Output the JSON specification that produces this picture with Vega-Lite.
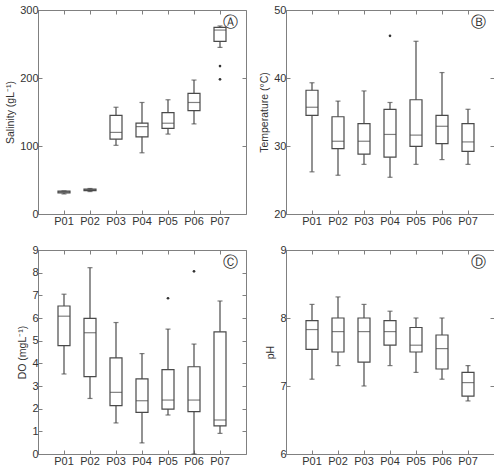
{
  "$schema": "https://vega.github.io/schema/vega-lite/v6.json",
  "padding": {"left": 5, "top": 3, "right": 2, "bottom": 2},
  "background": "white",
  "datasets": {
    "boxes": [
      {"panel": "A", "site": "P01", "min": 29.5, "q1": 31, "med": 32.5, "q3": 33.5, "max": 34},
      {"panel": "A", "site": "P02", "min": 33, "q1": 34.5, "med": 35.5, "q3": 36.5, "max": 37.5},
      {"panel": "A", "site": "P03", "min": 101, "q1": 110, "med": 120, "q3": 145, "max": 157},
      {"panel": "A", "site": "P04", "min": 90, "q1": 113.5, "med": 128.5, "q3": 133.5, "max": 164},
      {"panel": "A", "site": "P05", "min": 117.5, "q1": 126, "med": 133.5, "q3": 149, "max": 168},
      {"panel": "A", "site": "P06", "min": 132.5, "q1": 152, "med": 164, "q3": 177.5, "max": 197},
      {"panel": "A", "site": "P07", "min": 245, "q1": 254, "med": 270.5, "q3": 274.5, "max": 276.5},
      {"panel": "B", "site": "P01", "min": 26.2, "q1": 34.5, "med": 35.7, "q3": 38.2, "max": 39.3},
      {"panel": "B", "site": "P02", "min": 25.7, "q1": 29.6, "med": 30.7, "q3": 34.3, "max": 36.6},
      {"panel": "B", "site": "P03", "min": 27.3, "q1": 28.8, "med": 30.7, "q3": 33.3, "max": 38.1},
      {"panel": "B", "site": "P04", "min": 25.4, "q1": 28.35, "med": 31.7, "q3": 35.4, "max": 36.4},
      {"panel": "B", "site": "P05", "min": 27.3, "q1": 29.95, "med": 31.6, "q3": 36.8, "max": 45.4},
      {"panel": "B", "site": "P06", "min": 28.0, "q1": 30.35, "med": 32.9, "q3": 34.5, "max": 40.8},
      {"panel": "B", "site": "P07", "min": 27.3, "q1": 29.2, "med": 30.6, "q3": 33.3, "max": 35.4},
      {"panel": "C", "site": "P01", "min": 3.53, "q1": 4.78, "med": 6.08, "q3": 6.53, "max": 7.05},
      {"panel": "C", "site": "P02", "min": 2.45, "q1": 3.41, "med": 5.35, "q3": 5.98, "max": 8.22},
      {"panel": "C", "site": "P03", "min": 1.37, "q1": 2.13, "med": 2.72, "q3": 4.24, "max": 5.8},
      {"panel": "C", "site": "P04", "min": 0.49, "q1": 1.84, "med": 2.35, "q3": 3.31, "max": 4.43},
      {"panel": "C", "site": "P05", "min": 1.72, "q1": 1.98, "med": 2.38, "q3": 3.72, "max": 5.51},
      {"panel": "C", "site": "P06", "min": 0, "q1": 1.87, "med": 2.38, "q3": 3.85, "max": 4.85},
      {"panel": "C", "site": "P07", "min": 0.91, "q1": 1.24, "med": 1.5, "q3": 5.39, "max": 6.75},
      {"panel": "D", "site": "P01", "min": 7.1, "q1": 7.54, "med": 7.83, "q3": 7.96, "max": 8.2},
      {"panel": "D", "site": "P02", "min": 7.3, "q1": 7.5, "med": 7.8, "q3": 8.0, "max": 8.31},
      {"panel": "D", "site": "P03", "min": 7.0, "q1": 7.35, "med": 7.8, "q3": 8.0, "max": 8.2},
      {"panel": "D", "site": "P04", "min": 7.3, "q1": 7.6, "med": 7.8, "q3": 7.96, "max": 8.1},
      {"panel": "D", "site": "P05", "min": 7.2, "q1": 7.5, "med": 7.6, "q3": 7.86, "max": 8.0},
      {"panel": "D", "site": "P06", "min": 7.1, "q1": 7.25, "med": 7.55, "q3": 7.75, "max": 8.0},
      {"panel": "D", "site": "P07", "min": 6.78, "q1": 6.85, "med": 7.05, "q3": 7.2, "max": 7.3}
    ],
    "outliers": [
      {"panel": "A", "site": "P07", "value": 217.5},
      {"panel": "A", "site": "P07", "value": 198},
      {"panel": "B", "site": "P04", "value": 46.2},
      {"panel": "C", "site": "P05", "value": 6.87},
      {"panel": "C", "site": "P06", "value": 8.06}
    ]
  },
  "concat": [
    {
      "width": 208, "height": 204,
      "title": {"text": "Ⓐ"},
      "data": {"name": "boxes"}, "transform": [{"filter": "datum.panel === 'A'"}],
      "layer": [
        {"mark": {"type": "rule", "color": "#4a4a4a", "strokeWidth": 1.2},
         "encoding": {"x": {"field": "site", "type": "nominal", "scale": {"domain": ["P01","P02","P03","P04","P05","P06","P07"], "paddingInner": 0, "paddingOuter": 0.5}, "axis": {"orient": "bottom"}},
                      "y": {"field": "min", "type": "quantitative", "scale": {"domain": [0, 300]}, "axis": {"orient": "left", "values": [0, 100, 200, 300], "title": "Salinity (gL⁻¹)"}},
                      "y2": {"field": "max"}}},
        {"mark": {"type": "bar", "fill": "white", "stroke": "#4a4a4a", "strokeWidth": 1.2, "width": 12},
         "encoding": {"x": {"field": "site", "type": "nominal", "axis": null}, "y": {"field": "q1", "type": "quantitative", "axis": null}, "y2": {"field": "q3"}}},
        {"mark": {"type": "tick", "color": "#4a4a4a", "size": 12, "thickness": 1.2},
         "encoding": {"x": {"field": "site", "type": "nominal", "axis": null}, "y": {"field": "med", "type": "quantitative", "axis": null}}},
        {"mark": {"type": "tick", "color": "#4a4a4a", "size": 5, "thickness": 1.2},
         "encoding": {"x": {"field": "site", "type": "nominal", "axis": null}, "y": {"field": "min", "type": "quantitative", "axis": null}}},
        {"mark": {"type": "tick", "color": "#4a4a4a", "size": 5, "thickness": 1.2},
         "encoding": {"x": {"field": "site", "type": "nominal", "axis": {"orient": "top", "labels": false}}, "y": {"field": "max", "type": "quantitative", "axis": {"orient": "right", "labels": false, "title": null, "values": [0, 100, 200, 300]}}}},
        {"data": {"name": "outliers"}, "transform": [{"filter": "datum.panel === 'A'"}],
         "mark": {"type": "circle", "color": "#333", "size": 7, "opacity": 1},
         "encoding": {"x": {"field": "site", "type": "nominal", "axis": null}, "y": {"field": "value", "type": "quantitative", "axis": null}}}
      ],
      "resolve": {"axis": {"x": "independent", "y": "independent"}}
    },
    {
      "width": 208, "height": 204,
      "title": {"text": "Ⓑ"},
      "data": {"name": "boxes"}, "transform": [{"filter": "datum.panel === 'B'"}],
      "layer": [
        {"mark": {"type": "rule", "color": "#4a4a4a", "strokeWidth": 1.2},
         "encoding": {"x": {"field": "site", "type": "nominal", "scale": {"domain": ["P01","P02","P03","P04","P05","P06","P07"], "paddingInner": 0, "paddingOuter": 0.5}, "axis": {"orient": "bottom"}},
                      "y": {"field": "min", "type": "quantitative", "scale": {"domain": [20, 50]}, "axis": {"orient": "left", "values": [20, 30, 40, 50], "title": "Temperature (°C)"}},
                      "y2": {"field": "max"}}},
        {"mark": {"type": "bar", "fill": "white", "stroke": "#4a4a4a", "strokeWidth": 1.2, "width": 12},
         "encoding": {"x": {"field": "site", "type": "nominal", "axis": null}, "y": {"field": "q1", "type": "quantitative", "axis": null}, "y2": {"field": "q3"}}},
        {"mark": {"type": "tick", "color": "#4a4a4a", "size": 12, "thickness": 1.2},
         "encoding": {"x": {"field": "site", "type": "nominal", "axis": null}, "y": {"field": "med", "type": "quantitative", "axis": null}}},
        {"mark": {"type": "tick", "color": "#4a4a4a", "size": 5, "thickness": 1.2},
         "encoding": {"x": {"field": "site", "type": "nominal", "axis": null}, "y": {"field": "min", "type": "quantitative", "axis": null}}},
        {"mark": {"type": "tick", "color": "#4a4a4a", "size": 5, "thickness": 1.2},
         "encoding": {"x": {"field": "site", "type": "nominal", "axis": {"orient": "top", "labels": false}}, "y": {"field": "max", "type": "quantitative", "axis": {"orient": "right", "labels": false, "title": null, "values": [20, 30, 40, 50]}}}},
        {"data": {"name": "outliers"}, "transform": [{"filter": "datum.panel === 'B'"}],
         "mark": {"type": "circle", "color": "#333", "size": 7, "opacity": 1},
         "encoding": {"x": {"field": "site", "type": "nominal", "axis": null}, "y": {"field": "value", "type": "quantitative", "axis": null}}}
      ],
      "resolve": {"axis": {"x": "independent", "y": "independent"}}
    },
    {
      "width": 208, "height": 204,
      "title": {"text": "Ⓒ"},
      "data": {"name": "boxes"}, "transform": [{"filter": "datum.panel === 'C'"}],
      "layer": [
        {"mark": {"type": "rule", "color": "#4a4a4a", "strokeWidth": 1.2},
         "encoding": {"x": {"field": "site", "type": "nominal", "scale": {"domain": ["P01","P02","P03","P04","P05","P06","P07"], "paddingInner": 0, "paddingOuter": 0.5}, "axis": {"orient": "bottom"}},
                      "y": {"field": "min", "type": "quantitative", "scale": {"domain": [0, 9]}, "axis": {"orient": "left", "values": [0,1,2,3,4,5,6,7,8,9], "title": "DO (mgL⁻¹)"}},
                      "y2": {"field": "max"}}},
        {"mark": {"type": "bar", "fill": "white", "stroke": "#4a4a4a", "strokeWidth": 1.2, "width": 12},
         "encoding": {"x": {"field": "site", "type": "nominal", "axis": null}, "y": {"field": "q1", "type": "quantitative", "axis": null}, "y2": {"field": "q3"}}},
        {"mark": {"type": "tick", "color": "#4a4a4a", "size": 12, "thickness": 1.2},
         "encoding": {"x": {"field": "site", "type": "nominal", "axis": null}, "y": {"field": "med", "type": "quantitative", "axis": null}}},
        {"mark": {"type": "tick", "color": "#4a4a4a", "size": 5, "thickness": 1.2},
         "encoding": {"x": {"field": "site", "type": "nominal", "axis": null}, "y": {"field": "min", "type": "quantitative", "axis": null}}},
        {"mark": {"type": "tick", "color": "#4a4a4a", "size": 5, "thickness": 1.2},
         "encoding": {"x": {"field": "site", "type": "nominal", "axis": {"orient": "top", "labels": false}}, "y": {"field": "max", "type": "quantitative", "axis": {"orient": "right", "labels": false, "title": null, "values": [0,1,2,3,4,5,6,7,8,9]}}}},
        {"data": {"name": "outliers"}, "transform": [{"filter": "datum.panel === 'C'"}],
         "mark": {"type": "circle", "color": "#333", "size": 7, "opacity": 1},
         "encoding": {"x": {"field": "site", "type": "nominal", "axis": null}, "y": {"field": "value", "type": "quantitative", "axis": null}}}
      ],
      "resolve": {"axis": {"x": "independent", "y": "independent"}}
    },
    {
      "width": 208, "height": 204,
      "title": {"text": "Ⓓ"},
      "data": {"name": "boxes"}, "transform": [{"filter": "datum.panel === 'D'"}],
      "layer": [
        {"mark": {"type": "rule", "color": "#4a4a4a", "strokeWidth": 1.2},
         "encoding": {"x": {"field": "site", "type": "nominal", "scale": {"domain": ["P01","P02","P03","P04","P05","P06","P07"], "paddingInner": 0, "paddingOuter": 0.5}, "axis": {"orient": "bottom"}},
                      "y": {"field": "min", "type": "quantitative", "scale": {"domain": [6, 9]}, "axis": {"orient": "left", "values": [6, 7, 8, 9], "title": "pH"}},
                      "y2": {"field": "max"}}},
        {"mark": {"type": "bar", "fill": "white", "stroke": "#4a4a4a", "strokeWidth": 1.2, "width": 12},
         "encoding": {"x": {"field": "site", "type": "nominal", "axis": null}, "y": {"field": "q1", "type": "quantitative", "axis": null}, "y2": {"field": "q3"}}},
        {"mark": {"type": "tick", "color": "#4a4a4a", "size": 12, "thickness": 1.2},
         "encoding": {"x": {"field": "site", "type": "nominal", "axis": null}, "y": {"field": "med", "type": "quantitative", "axis": null}}},
        {"mark": {"type": "tick", "color": "#4a4a4a", "size": 5, "thickness": 1.2},
         "encoding": {"x": {"field": "site", "type": "nominal", "axis": null}, "y": {"field": "min", "type": "quantitative", "axis": null}}},
        {"mark": {"type": "tick", "color": "#4a4a4a", "size": 5, "thickness": 1.2},
         "encoding": {"x": {"field": "site", "type": "nominal", "axis": {"orient": "top", "labels": false}}, "y": {"field": "max", "type": "quantitative", "axis": {"orient": "right", "labels": false, "title": null, "values": [6, 7, 8, 9]}}}},
        {"data": {"name": "outliers"}, "transform": [{"filter": "datum.panel === 'D'"}],
         "mark": {"type": "circle", "color": "#333", "size": 7, "opacity": 1},
         "encoding": {"x": {"field": "site", "type": "nominal", "axis": null}, "y": {"field": "value", "type": "quantitative", "axis": null}}}
      ],
      "resolve": {"axis": {"x": "independent", "y": "independent"}}
    }
  ],
  "columns": 2,
  "spacing": {"row": 36, "column": 40},
  "bounds": "flush",
  "config": {
    "font": "Liberation Sans",
    "view": {"stroke": "#808080", "strokeWidth": 1},
    "title": {"anchor": "end", "orient": "top", "frame": "group", "offset": -26, "dx": -8, "fontSize": 15, "font": "DejaVu Sans", "fontWeight": "normal", "color": "#333"},
    "axis": {
      "domain": false, "grid": false,
      "tickSize": -4, "tickColor": "#808080", "tickWidth": 1,
      "labelFont": "Liberation Sans", "labelFontSize": 11, "labelColor": "#333",
      "labelPadding": 4, "labelAngle": 0,
      "titleFont": "Liberation Sans", "titleFontSize": 10.5, "titleFontWeight": "normal", "titleColor": "#333", "titlePadding": 4
    },
    "axisX": {"title": null, "labelPadding": 5}
  }
}
